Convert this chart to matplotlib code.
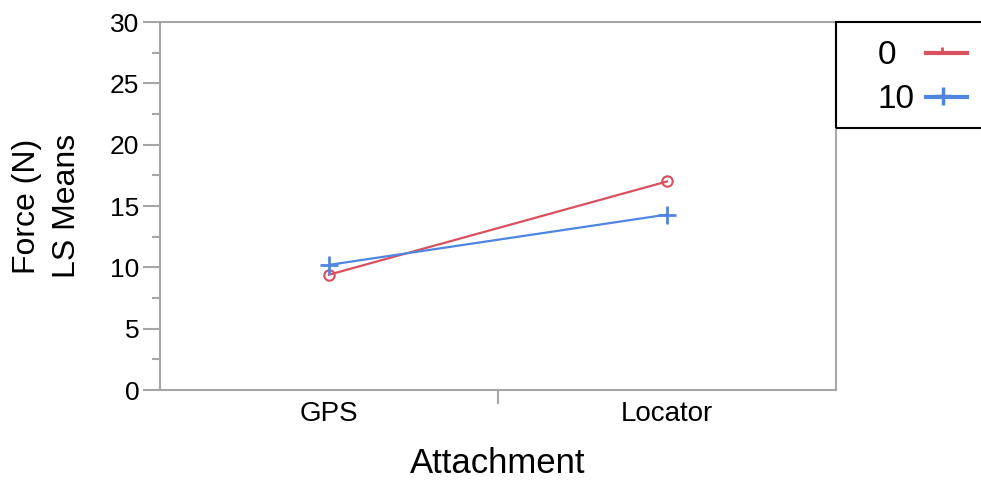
import matplotlib
matplotlib.use("Agg")
import matplotlib.pyplot as plt
from matplotlib.patches import Rectangle
from matplotlib.lines import Line2D
from matplotlib.ticker import MultipleLocator

categories = ["GPS", "Locator"]
series_names = ["0", "10"]
values_0 = [9.4, 17.0]
values_10 = [10.2, 14.3]
y_ticks = [0, 5, 10, 15, 20, 25, 30]

red = "#d9505f"
blue = "#4f86e0"
grey = "#a6a6a6"

plt.rcParams['font.family'] = ['Liberation Sans', 'DejaVu Sans']

fig = plt.figure(figsize=(9.81, 4.8), dpi=100)
ax = fig.add_axes([160/981, 90/480, 676/981, 368/480])

x = list(range(len(categories)))
ax.plot(x, values_0, color=red, lw=1.6, marker='o', ms=7.5, mfc='none', mec=red, mew=1.5)
ax.plot(x, values_10, color=blue, lw=1.6, marker='+', ms=13, mec=blue, mew=2)

ax.set_xlim(-0.5, 1.5)
ax.set_ylim(0, 30)
ax.set_yticks(y_ticks)
ax.set_yticklabels([str(t) for t in y_ticks], fontsize=19)
ax.yaxis.set_minor_locator(MultipleLocator(2.5))
ax.set_xticks(x)
ax.set_xticklabels(categories, fontsize=20)
ax.set_xticks([0.5], minor=True)
ax.tick_params(axis='x', which='major', length=0, pad=8)
ax.tick_params(axis='x', which='minor', length=10, width=1.5, color=grey)
ax.tick_params(axis='y', which='major', length=12, width=1.5, color=grey, pad=3)
ax.tick_params(axis='y', which='minor', length=6, width=1.5, color=grey)
for s in ax.spines.values():
    s.set_color(grey)
    s.set_linewidth(1.5)

ax.set_xlabel("Attachment", fontsize=25, labelpad=14)
ax.set_ylabel("Force (N)\nLS Means", fontsize=23, labelpad=20, linespacing=1.45)

# legend box
fig.patches.append(Rectangle((836/981, (480-128)/480), (981-836)/981 + 0.01, 106/480,
                             transform=fig.transFigure, fill=False, ec='black', lw=1.5))
leg_entries = [(series_names[0], red, '|', 52, 896), (series_names[1], blue, '+', 96, 914)]
for name, col, mk, py, tx in leg_entries:
    fig.text(tx/981, 1 - py/480, name, ha='right', va='center_baseline', fontsize=24)
    fig.add_artist(Line2D([926/981, 967/981], [1 - (py + 1)/480, 1 - (py + 1)/480],
                          transform=fig.transFigure, color=col, lw=3))
    if mk == '+':
        fig.add_artist(Line2D([943/981], [1 - py/480], transform=fig.transFigure,
                              marker='+', ms=13, mew=2.5, color=col, ls='none'))
    else:
        fig.add_artist(Line2D([942/981], [1 - (py - 2)/480], transform=fig.transFigure,
                              marker='|', ms=5, mew=2, color=col, ls='none'))

fig.savefig("out.png", dpi=100)
